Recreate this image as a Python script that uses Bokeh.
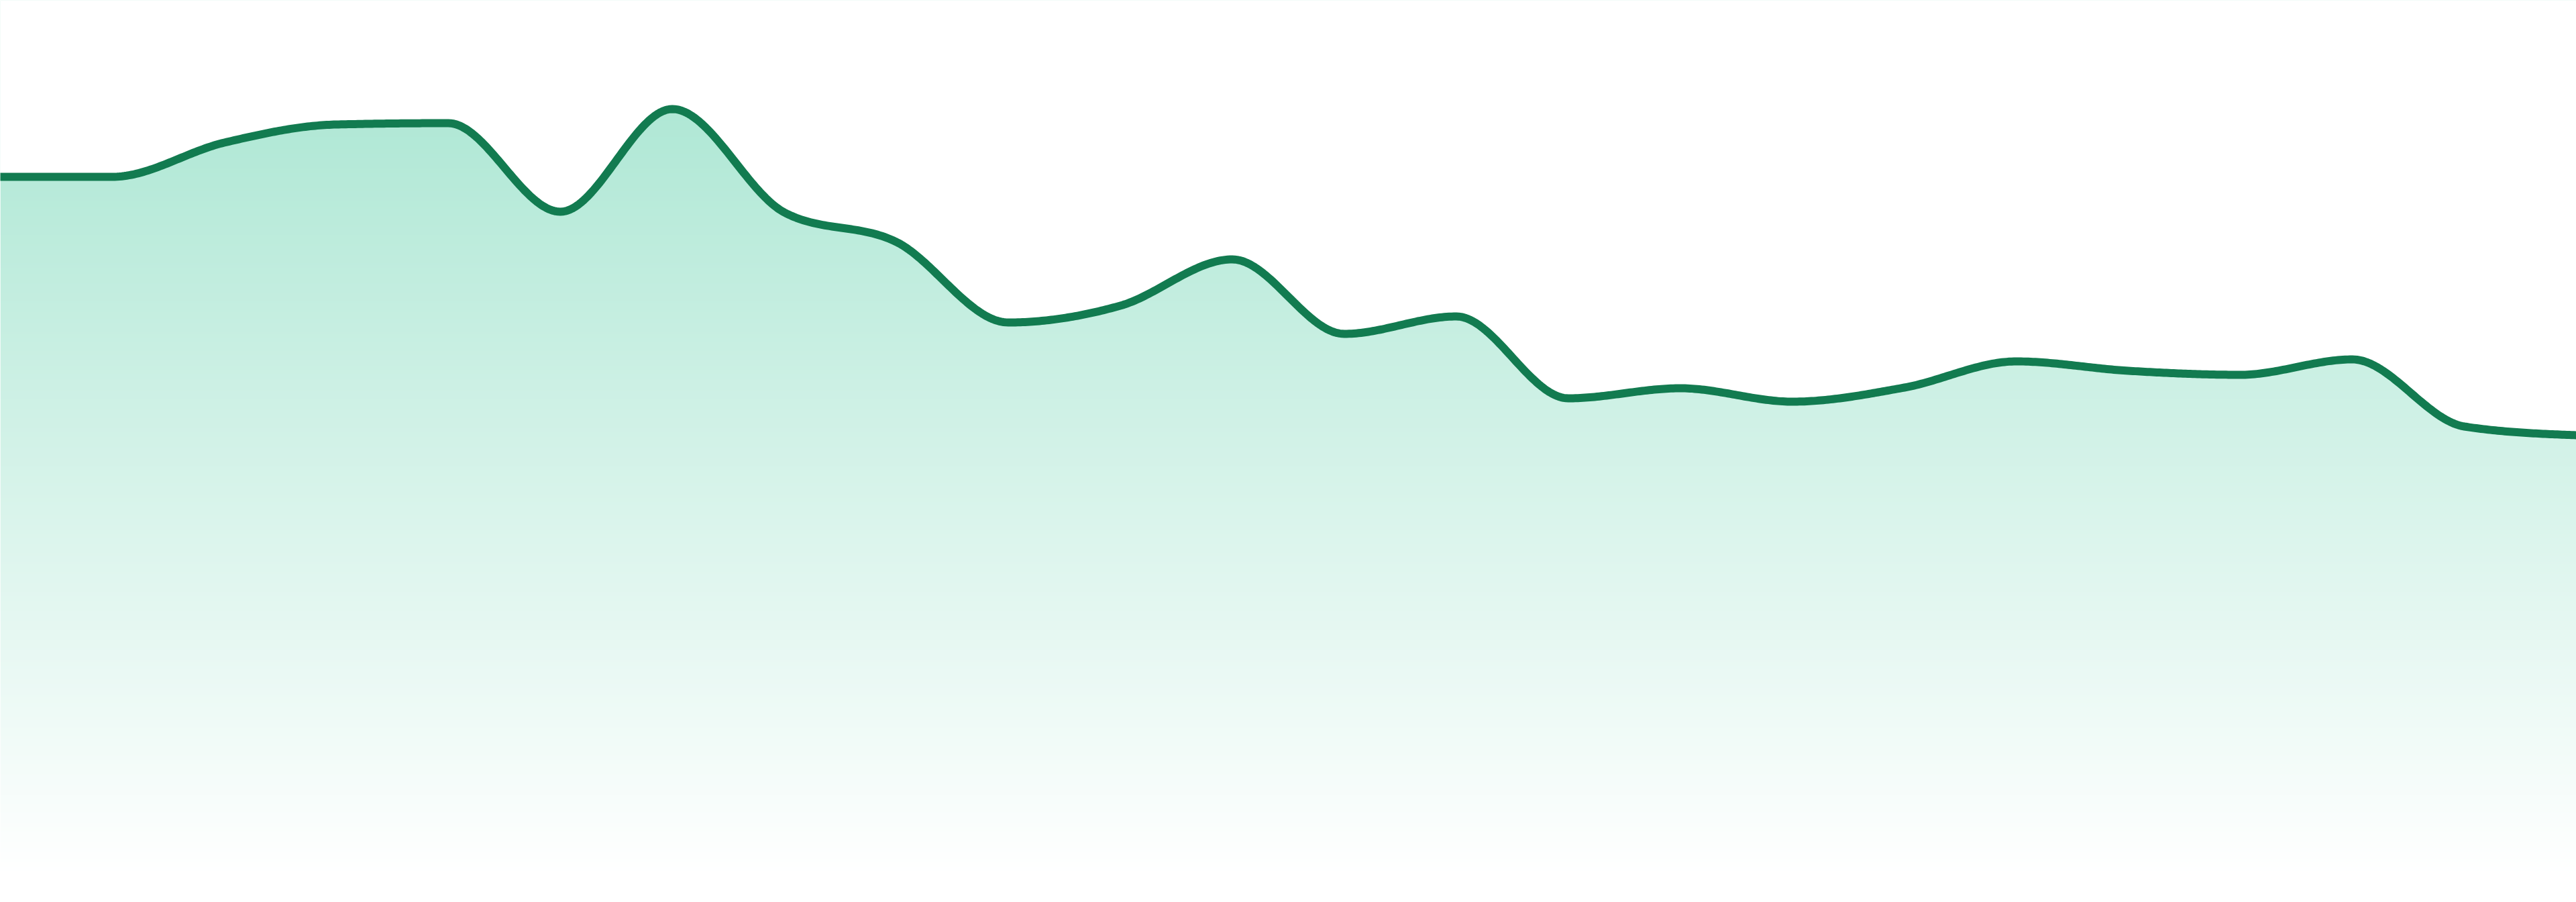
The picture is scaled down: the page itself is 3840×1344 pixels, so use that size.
import numpy as np
from bokeh.plotting import figure
from bokeh.models import Range1d
from bokeh.embed import file_html
from bokeh.resources import INLINE

# ---- data ----
index = list(range(24))
values = [104.2, 104.2, 109.3, 112.0, 112.2, 99.0, 114.3, 98.9, 94.5, 82.5,
          85.0, 91.9, 80.8, 83.4, 71.2, 72.7, 70.7, 72.8, 76.7, 75.3,
          74.7, 77.0, 67.0, 65.7]

LINE_COLOR = "#127b50"
FILL_RGB = (16, 185, 129)


def monotone_curve(xs, ys, samples=48):
    """Monotone cubic (d3 curveMonotoneX style) through the data points."""
    x = np.asarray(xs, float)
    y = np.asarray(ys, float)
    n = len(x)
    h = np.diff(x)
    s = np.diff(y) / h
    t = np.zeros(n)
    sg = lambda v: -1.0 if v < 0 else 1.0
    for i in range(1, n - 1):
        s0, s1, h0, h1 = s[i - 1], s[i], h[i - 1], h[i]
        p = (s0 * h1 + s1 * h0) / (h0 + h1)
        t[i] = (sg(s0) + sg(s1)) * min(abs(s0), abs(s1), 0.5 * abs(p))
    t[0] = (3 * s[0] - t[1]) / 2
    t[-1] = (3 * s[-1] - t[-2]) / 2
    px, py = [], []
    u = np.linspace(0, 1, samples)
    for i in range(n - 1):
        dx = h[i]
        P0 = (x[i], y[i])
        P1 = (x[i] + dx / 3, y[i] + dx * t[i] / 3)
        P2 = (x[i + 1] - dx / 3, y[i + 1] - dx * t[i + 1] / 3)
        P3 = (x[i + 1], y[i + 1])
        uu = u if i == 0 else u[1:]
        b0 = (1 - uu) ** 3
        b1 = 3 * (1 - uu) ** 2 * uu
        b2 = 3 * (1 - uu) * uu ** 2
        b3 = uu ** 3
        px.extend(b0 * P0[0] + b1 * P1[0] + b2 * P2[0] + b3 * P3[0])
        py.extend(b0 * P0[1] + b1 * P1[1] + b2 * P2[1] + b3 * P3[1])
    return np.array(px), np.array(py)


W, H = 3840, 1336
x0, x1 = 0.0, 23.0
y_top = 1305 / 10.0
y_bottom = (1305 - H) / 10.0

p = figure(width=W, height=H, output_backend="svg", toolbar_location=None,
           x_range=Range1d(x0, x1), y_range=Range1d(y_bottom, y_top),
           min_border=0, background_fill_color="white", border_fill_color="white")
p.axis.visible = False
p.grid.visible = False
p.outline_line_color = None

cx, cy = monotone_curve(index, values)

# vertical gradient (alpha fades to 0 at the baseline)
rows = 650
vv = np.linspace(0, y_top, rows)
alpha = np.clip(0.38 * (vv * 10) / 1305.0, 0, 1)
img = np.zeros((rows, 2), dtype=np.uint32)
view = img.view(dtype=np.uint8).reshape((rows, 2, 4))
for k in range(rows):
    a = alpha[k]
    view[k, :, 0] = int(round(255 - a * (255 - FILL_RGB[0])))
    view[k, :, 1] = int(round(255 - a * (255 - FILL_RGB[1])))
    view[k, :, 2] = int(round(255 - a * (255 - FILL_RGB[2])))
    view[k, :, 3] = 255
p.image_rgba(image=[img], x=x0, y=0, dw=(x1 - x0), dh=y_top)

# white mask above the curve (extended past both frame edges)
mx = np.concatenate([[x0 - 1.0], cx, [x1 + 1.0]])
my = np.concatenate([[cy[0]], cy, [cy[-1]]])
p.varea(x=mx, y1=my, y2=np.full_like(my, y_top + 5), fill_color="white", fill_alpha=1.0)

# the line
p.line(mx, my, line_color=LINE_COLOR, line_width=12, line_join="round", line_cap="round")

open("out.html", "w").write(file_html(p, INLINE))
